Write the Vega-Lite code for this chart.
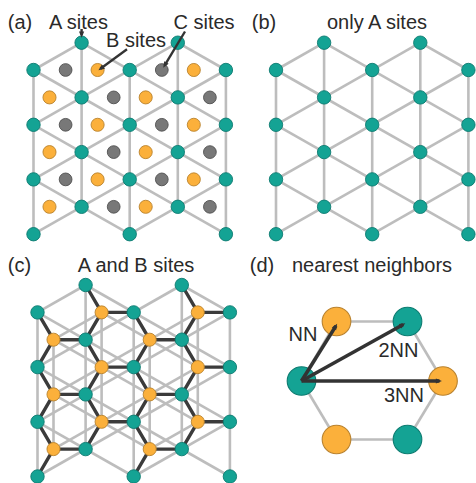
{
  "$schema": "https://vega.github.io/schema/vega-lite/v6.json",
  "width": 476,
  "height": 483,
  "padding": 0,
  "autosize": "none",
  "background": "white",
  "config": {"view": {"stroke": null}},
  "datasets": {
    "light": [
      {"x": 33.5, "y": 70.0, "x2": 33.5, "y2": 234.2},
      {"x": 81.6, "y": 42.7, "x2": 81.6, "y2": 206.8},
      {"x": 129.7, "y": 70.0, "x2": 129.7, "y2": 234.2},
      {"x": 177.8, "y": 42.7, "x2": 177.8, "y2": 206.8},
      {"x": 225.9, "y": 70.0, "x2": 225.9, "y2": 234.2},
      {"x": 33.5, "y": 70.0, "x2": 81.6, "y2": 42.7},
      {"x": 33.5, "y": 124.8, "x2": 177.8, "y2": 42.7},
      {"x": 33.5, "y": 179.4, "x2": 225.9, "y2": 70.0},
      {"x": 33.5, "y": 234.2, "x2": 225.9, "y2": 124.8},
      {"x": 129.7, "y": 234.2, "x2": 225.9, "y2": 179.4},
      {"x": 177.8, "y": 42.7, "x2": 225.9, "y2": 70.0},
      {"x": 81.6, "y": 42.7, "x2": 225.9, "y2": 124.8},
      {"x": 33.5, "y": 70.0, "x2": 225.9, "y2": 179.4},
      {"x": 33.5, "y": 124.8, "x2": 225.9, "y2": 234.2},
      {"x": 33.5, "y": 179.4, "x2": 129.7, "y2": 234.2},

      {"x": 276.0, "y": 70.0, "x2": 276.0, "y2": 234.2},
      {"x": 324.1, "y": 42.7, "x2": 324.1, "y2": 206.8},
      {"x": 372.2, "y": 70.0, "x2": 372.2, "y2": 234.2},
      {"x": 420.3, "y": 42.7, "x2": 420.3, "y2": 206.8},
      {"x": 468.4, "y": 70.0, "x2": 468.4, "y2": 234.2},
      {"x": 276.0, "y": 70.0, "x2": 324.1, "y2": 42.7},
      {"x": 276.0, "y": 124.8, "x2": 420.3, "y2": 42.7},
      {"x": 276.0, "y": 179.4, "x2": 468.4, "y2": 70.0},
      {"x": 276.0, "y": 234.2, "x2": 468.4, "y2": 124.8},
      {"x": 372.2, "y": 234.2, "x2": 468.4, "y2": 179.4},
      {"x": 420.3, "y": 42.7, "x2": 468.4, "y2": 70.0},
      {"x": 324.1, "y": 42.7, "x2": 468.4, "y2": 124.8},
      {"x": 276.0, "y": 70.0, "x2": 468.4, "y2": 179.4},
      {"x": 276.0, "y": 124.8, "x2": 468.4, "y2": 234.2},
      {"x": 276.0, "y": 179.4, "x2": 372.2, "y2": 234.2},

      {"x": 37.5, "y": 312.4, "x2": 37.5, "y2": 476.5},
      {"x": 85.6, "y": 285.0, "x2": 85.6, "y2": 449.1},
      {"x": 133.7, "y": 312.4, "x2": 133.7, "y2": 476.5},
      {"x": 181.8, "y": 285.0, "x2": 181.8, "y2": 449.1},
      {"x": 229.9, "y": 312.4, "x2": 229.9, "y2": 476.5},
      {"x": 37.5, "y": 312.4, "x2": 85.6, "y2": 285.0},
      {"x": 37.5, "y": 367.1, "x2": 181.8, "y2": 285.0},
      {"x": 37.5, "y": 421.8, "x2": 229.9, "y2": 312.4},
      {"x": 37.5, "y": 476.5, "x2": 229.9, "y2": 367.1},
      {"x": 133.7, "y": 476.5, "x2": 229.9, "y2": 421.8},
      {"x": 181.8, "y": 285.0, "x2": 229.9, "y2": 312.4},
      {"x": 85.6, "y": 285.0, "x2": 229.9, "y2": 367.1},
      {"x": 37.5, "y": 312.4, "x2": 229.9, "y2": 421.8},
      {"x": 37.5, "y": 367.1, "x2": 229.9, "y2": 476.5},
      {"x": 37.5, "y": 421.8, "x2": 133.7, "y2": 476.5},

      {"x": 53.5, "y": 339.7, "x2": 53.5, "y2": 449.1},
      {"x": 101.6, "y": 312.4, "x2": 101.6, "y2": 421.8},
      {"x": 149.7, "y": 339.7, "x2": 149.7, "y2": 449.1},
      {"x": 197.8, "y": 312.4, "x2": 197.8, "y2": 421.8},
      {"x": 53.5, "y": 339.7, "x2": 101.6, "y2": 312.4},
      {"x": 53.5, "y": 394.4, "x2": 197.8, "y2": 312.4},
      {"x": 53.5, "y": 449.1, "x2": 197.8, "y2": 367.1},
      {"x": 149.7, "y": 449.1, "x2": 197.8, "y2": 421.8},
      {"x": 101.6, "y": 312.4, "x2": 197.8, "y2": 367.1},
      {"x": 53.5, "y": 339.7, "x2": 197.8, "y2": 421.8},
      {"x": 53.5, "y": 394.4, "x2": 149.7, "y2": 449.1},

      {"x": 336.5, "y": 321.5, "x2": 407.5, "y2": 321.5},
      {"x": 407.5, "y": 321.5, "x2": 443.0, "y2": 381.0},
      {"x": 443.0, "y": 381.0, "x2": 407.5, "y2": 439.5},
      {"x": 407.5, "y": 439.5, "x2": 336.5, "y2": 439.5},
      {"x": 336.5, "y": 439.5, "x2": 301.5, "y2": 381.0},
      {"x": 301.5, "y": 381.0, "x2": 336.5, "y2": 321.5}
    ],
    "dark": [
      {"x": 53.5, "y": 339.7, "x2": 37.5, "y2": 312.4},
      {"x": 53.5, "y": 339.7, "x2": 37.5, "y2": 367.1},
      {"x": 53.5, "y": 339.7, "x2": 85.6, "y2": 339.7},
      {"x": 53.5, "y": 394.4, "x2": 37.5, "y2": 367.1},
      {"x": 53.5, "y": 394.4, "x2": 37.5, "y2": 421.8},
      {"x": 53.5, "y": 394.4, "x2": 85.6, "y2": 394.4},
      {"x": 53.5, "y": 449.1, "x2": 37.5, "y2": 421.8},
      {"x": 53.5, "y": 449.1, "x2": 37.5, "y2": 476.5},
      {"x": 53.5, "y": 449.1, "x2": 85.6, "y2": 449.1},
      {"x": 101.6, "y": 312.4, "x2": 85.6, "y2": 285.0},
      {"x": 101.6, "y": 312.4, "x2": 85.6, "y2": 339.7},
      {"x": 101.6, "y": 312.4, "x2": 133.7, "y2": 312.4},
      {"x": 101.6, "y": 367.1, "x2": 85.6, "y2": 339.7},
      {"x": 101.6, "y": 367.1, "x2": 85.6, "y2": 394.4},
      {"x": 101.6, "y": 367.1, "x2": 133.7, "y2": 367.1},
      {"x": 101.6, "y": 421.8, "x2": 85.6, "y2": 394.4},
      {"x": 101.6, "y": 421.8, "x2": 85.6, "y2": 449.1},
      {"x": 101.6, "y": 421.8, "x2": 133.7, "y2": 421.8},
      {"x": 149.7, "y": 339.7, "x2": 133.7, "y2": 312.4},
      {"x": 149.7, "y": 339.7, "x2": 133.7, "y2": 367.1},
      {"x": 149.7, "y": 339.7, "x2": 181.8, "y2": 339.7},
      {"x": 149.7, "y": 394.4, "x2": 133.7, "y2": 367.1},
      {"x": 149.7, "y": 394.4, "x2": 133.7, "y2": 421.8},
      {"x": 149.7, "y": 394.4, "x2": 181.8, "y2": 394.4},
      {"x": 149.7, "y": 449.1, "x2": 133.7, "y2": 421.8},
      {"x": 149.7, "y": 449.1, "x2": 133.7, "y2": 476.5},
      {"x": 149.7, "y": 449.1, "x2": 181.8, "y2": 449.1},
      {"x": 197.8, "y": 312.4, "x2": 181.8, "y2": 285.0},
      {"x": 197.8, "y": 312.4, "x2": 181.8, "y2": 339.7},
      {"x": 197.8, "y": 312.4, "x2": 229.9, "y2": 312.4},
      {"x": 197.8, "y": 367.1, "x2": 181.8, "y2": 339.7},
      {"x": 197.8, "y": 367.1, "x2": 181.8, "y2": 394.4},
      {"x": 197.8, "y": 367.1, "x2": 229.9, "y2": 367.1},
      {"x": 197.8, "y": 421.8, "x2": 181.8, "y2": 394.4},
      {"x": 197.8, "y": 421.8, "x2": 181.8, "y2": 449.1},
      {"x": 197.8, "y": 421.8, "x2": 229.9, "y2": 421.8}
    ],
    "sites": [
      {"panel": "a", "type": "A", "x": 33.5, "y": 70.0},
      {"panel": "a", "type": "A", "x": 33.5, "y": 124.8},
      {"panel": "a", "type": "A", "x": 33.5, "y": 179.4},
      {"panel": "a", "type": "A", "x": 33.5, "y": 234.2},
      {"panel": "a", "type": "A", "x": 81.6, "y": 42.7},
      {"panel": "a", "type": "A", "x": 81.6, "y": 97.4},
      {"panel": "a", "type": "A", "x": 81.6, "y": 152.1},
      {"panel": "a", "type": "A", "x": 81.6, "y": 206.8},
      {"panel": "a", "type": "A", "x": 129.7, "y": 70.0},
      {"panel": "a", "type": "A", "x": 129.7, "y": 124.8},
      {"panel": "a", "type": "A", "x": 129.7, "y": 179.4},
      {"panel": "a", "type": "A", "x": 129.7, "y": 234.2},
      {"panel": "a", "type": "A", "x": 177.8, "y": 42.7},
      {"panel": "a", "type": "A", "x": 177.8, "y": 97.4},
      {"panel": "a", "type": "A", "x": 177.8, "y": 152.1},
      {"panel": "a", "type": "A", "x": 177.8, "y": 206.8},
      {"panel": "a", "type": "A", "x": 225.9, "y": 70.0},
      {"panel": "a", "type": "A", "x": 225.9, "y": 124.8},
      {"panel": "a", "type": "A", "x": 225.9, "y": 179.4},
      {"panel": "a", "type": "A", "x": 225.9, "y": 234.2},
      {"panel": "a", "type": "B", "x": 49.5, "y": 97.4},
      {"panel": "a", "type": "B", "x": 49.5, "y": 152.1},
      {"panel": "a", "type": "B", "x": 49.5, "y": 206.8},
      {"panel": "a", "type": "B", "x": 97.6, "y": 70.0},
      {"panel": "a", "type": "B", "x": 97.6, "y": 124.8},
      {"panel": "a", "type": "B", "x": 97.6, "y": 179.4},
      {"panel": "a", "type": "B", "x": 145.7, "y": 97.4},
      {"panel": "a", "type": "B", "x": 145.7, "y": 152.1},
      {"panel": "a", "type": "B", "x": 145.7, "y": 206.8},
      {"panel": "a", "type": "B", "x": 193.8, "y": 70.0},
      {"panel": "a", "type": "B", "x": 193.8, "y": 124.8},
      {"panel": "a", "type": "B", "x": 193.8, "y": 179.4},
      {"panel": "a", "type": "C", "x": 65.6, "y": 70.0},
      {"panel": "a", "type": "C", "x": 65.6, "y": 124.8},
      {"panel": "a", "type": "C", "x": 65.6, "y": 179.4},
      {"panel": "a", "type": "C", "x": 113.7, "y": 97.4},
      {"panel": "a", "type": "C", "x": 113.7, "y": 152.1},
      {"panel": "a", "type": "C", "x": 113.7, "y": 206.8},
      {"panel": "a", "type": "C", "x": 161.8, "y": 70.0},
      {"panel": "a", "type": "C", "x": 161.8, "y": 124.8},
      {"panel": "a", "type": "C", "x": 161.8, "y": 179.4},
      {"panel": "a", "type": "C", "x": 209.9, "y": 97.4},
      {"panel": "a", "type": "C", "x": 209.9, "y": 152.1},
      {"panel": "a", "type": "C", "x": 209.9, "y": 206.8},

      {"panel": "b", "type": "A", "x": 276.0, "y": 70.0},
      {"panel": "b", "type": "A", "x": 276.0, "y": 124.8},
      {"panel": "b", "type": "A", "x": 276.0, "y": 179.4},
      {"panel": "b", "type": "A", "x": 276.0, "y": 234.2},
      {"panel": "b", "type": "A", "x": 324.1, "y": 42.7},
      {"panel": "b", "type": "A", "x": 324.1, "y": 97.4},
      {"panel": "b", "type": "A", "x": 324.1, "y": 152.1},
      {"panel": "b", "type": "A", "x": 324.1, "y": 206.8},
      {"panel": "b", "type": "A", "x": 372.2, "y": 70.0},
      {"panel": "b", "type": "A", "x": 372.2, "y": 124.8},
      {"panel": "b", "type": "A", "x": 372.2, "y": 179.4},
      {"panel": "b", "type": "A", "x": 372.2, "y": 234.2},
      {"panel": "b", "type": "A", "x": 420.3, "y": 42.7},
      {"panel": "b", "type": "A", "x": 420.3, "y": 97.4},
      {"panel": "b", "type": "A", "x": 420.3, "y": 152.1},
      {"panel": "b", "type": "A", "x": 420.3, "y": 206.8},
      {"panel": "b", "type": "A", "x": 468.4, "y": 70.0},
      {"panel": "b", "type": "A", "x": 468.4, "y": 124.8},
      {"panel": "b", "type": "A", "x": 468.4, "y": 179.4},
      {"panel": "b", "type": "A", "x": 468.4, "y": 234.2},

      {"panel": "c", "type": "A", "x": 37.5, "y": 312.4},
      {"panel": "c", "type": "A", "x": 37.5, "y": 367.1},
      {"panel": "c", "type": "A", "x": 37.5, "y": 421.8},
      {"panel": "c", "type": "A", "x": 37.5, "y": 476.5},
      {"panel": "c", "type": "A", "x": 85.6, "y": 285.0},
      {"panel": "c", "type": "A", "x": 85.6, "y": 339.7},
      {"panel": "c", "type": "A", "x": 85.6, "y": 394.4},
      {"panel": "c", "type": "A", "x": 85.6, "y": 449.1},
      {"panel": "c", "type": "A", "x": 133.7, "y": 312.4},
      {"panel": "c", "type": "A", "x": 133.7, "y": 367.1},
      {"panel": "c", "type": "A", "x": 133.7, "y": 421.8},
      {"panel": "c", "type": "A", "x": 133.7, "y": 476.5},
      {"panel": "c", "type": "A", "x": 181.8, "y": 285.0},
      {"panel": "c", "type": "A", "x": 181.8, "y": 339.7},
      {"panel": "c", "type": "A", "x": 181.8, "y": 394.4},
      {"panel": "c", "type": "A", "x": 181.8, "y": 449.1},
      {"panel": "c", "type": "A", "x": 229.9, "y": 312.4},
      {"panel": "c", "type": "A", "x": 229.9, "y": 367.1},
      {"panel": "c", "type": "A", "x": 229.9, "y": 421.8},
      {"panel": "c", "type": "A", "x": 229.9, "y": 476.5},
      {"panel": "c", "type": "B", "x": 53.5, "y": 339.7},
      {"panel": "c", "type": "B", "x": 53.5, "y": 394.4},
      {"panel": "c", "type": "B", "x": 53.5, "y": 449.1},
      {"panel": "c", "type": "B", "x": 101.6, "y": 312.4},
      {"panel": "c", "type": "B", "x": 101.6, "y": 367.1},
      {"panel": "c", "type": "B", "x": 101.6, "y": 421.8},
      {"panel": "c", "type": "B", "x": 149.7, "y": 339.7},
      {"panel": "c", "type": "B", "x": 149.7, "y": 394.4},
      {"panel": "c", "type": "B", "x": 149.7, "y": 449.1},
      {"panel": "c", "type": "B", "x": 197.8, "y": 312.4},
      {"panel": "c", "type": "B", "x": 197.8, "y": 367.1},
      {"panel": "c", "type": "B", "x": 197.8, "y": 421.8},

      {"panel": "d", "type": "A", "x": 301.5, "y": 381.0},
      {"panel": "d", "type": "B", "x": 336.5, "y": 321.5},
      {"panel": "d", "type": "A", "x": 407.5, "y": 321.5},
      {"panel": "d", "type": "B", "x": 443.0, "y": 381.0},
      {"panel": "d", "type": "A", "x": 407.5, "y": 439.5},
      {"panel": "d", "type": "B", "x": 336.5, "y": 439.5}
    ],
    "arrows": [
      {"panel": "a", "label": "A sites", "x": 81.6, "y": 29.0, "x2": 81.6, "y2": 35.2},
      {"panel": "a", "label": "B sites", "x": 127.0, "y": 49.3, "x2": 100.4, "y2": 68.8},
      {"panel": "a", "label": "C sites", "x": 185.0, "y": 31.5, "x2": 164.5, "y2": 65.7},
      {"panel": "d", "label": "NN", "x": 301.5, "y": 381.0, "x2": 335.9, "y2": 325.9},
      {"panel": "d", "label": "2NN", "x": 301.5, "y": 381.0, "x2": 403.2, "y2": 324.5},
      {"panel": "d", "label": "3NN", "x": 301.5, "y": 381.0, "x2": 439.5, "y2": 381.0}
    ],
    "texts": [
      {"text": "(a)", "x": 20.0, "y": 28.5},
      {"text": "A sites", "x": 78.5, "y": 28.5},
      {"text": "B sites", "x": 136.0, "y": 47.0},
      {"text": "C sites", "x": 204.0, "y": 28.5},
      {"text": "(b)", "x": 264.0, "y": 28.5},
      {"text": "only A sites", "x": 377.0, "y": 28.5},
      {"text": "(c)", "x": 19.5, "y": 271.5},
      {"text": "A and B sites", "x": 136.0, "y": 271.5},
      {"text": "(d)", "x": 262.0, "y": 271.5},
      {"text": "nearest neighbors", "x": 372.0, "y": 271.5},
      {"text": "NN", "x": 303.0, "y": 340.5},
      {"text": "2NN", "x": 398.5, "y": 356.5},
      {"text": "3NN", "x": 404.0, "y": 402.0}
    ]
  },
  "encoding": {
    "x": {"field": "x", "type": "quantitative", "scale": {"domain": [0, 476], "nice": false, "zero": false}, "axis": null},
    "y": {"field": "y", "type": "quantitative", "scale": {"domain": [0, 483], "nice": false, "zero": false, "reverse": true}, "axis": null}
  },
  "layer": [
    {
      "data": {"name": "light"},
      "mark": {"type": "rule", "color": "#bdbdbd", "strokeWidth": 2.6},
      "encoding": {"x2": {"field": "x2"}, "y2": {"field": "y2"}}
    },
    {
      "data": {"name": "dark"},
      "mark": {"type": "rule", "color": "#3b3b3b", "strokeWidth": 3.4, "strokeCap": "round"},
      "encoding": {"x2": {"field": "x2"}, "y2": {"field": "y2"}}
    },
    {
      "data": {"name": "sites"},
      "transform": [{"filter": "datum.panel != 'd'"}],
      "mark": {"type": "point", "shape": "circle", "filled": true, "opacity": 1, "strokeWidth": 0.9},
      "encoding": {
        "color": {"field": "type", "type": "nominal", "scale": {"domain": ["A", "B", "C"], "range": ["#14a394", "#fbb03b", "#787878"]}, "legend": null},
        "stroke": {"field": "type", "type": "nominal", "scale": {"domain": ["A", "B", "C"], "range": ["#0c7b70", "#b9822e", "#505050"]}, "legend": null},
        "size": {"field": "type", "type": "nominal", "scale": {"domain": ["A", "B", "C"], "range": [180, 145, 145]}, "legend": null}
      }
    },
    {
      "data": {"name": "sites"},
      "transform": [{"filter": "datum.panel == 'd'"}],
      "mark": {"type": "point", "shape": "circle", "filled": true, "opacity": 1, "strokeWidth": 1.1, "size": 820},
      "encoding": {
        "color": {"field": "type", "type": "nominal", "scale": {"domain": ["A", "B", "C"], "range": ["#14a394", "#fbb03b", "#787878"]}, "legend": null},
        "stroke": {"field": "type", "type": "nominal", "scale": {"domain": ["A", "B", "C"], "range": ["#0c7b70", "#b9822e", "#505050"]}, "legend": null}
      }
    },
    {
      "data": {"name": "arrows"},
      "mark": {"type": "rule", "color": "#333333", "strokeCap": "butt"},
      "encoding": {
        "x2": {"field": "x2"},
        "y2": {"field": "y2"},
        "strokeWidth": {"field": "panel", "type": "nominal", "scale": {"domain": ["a", "d"], "range": [2.4, 3.6]}, "legend": null}
      }
    },
    {
      "data": {"name": "arrows"},
      "transform": [{"calculate": "atan2(datum.x2 - datum.x, datum.y - datum.y2) * 180 / PI", "as": "heading"}],
      "mark": {"type": "point", "shape": "M0,-0.4 L0.42,0.6 L-0.42,0.6 Z", "filled": true, "opacity": 1, "color": "#333333", "strokeWidth": 0},
      "encoding": {
        "x": {"field": "x2", "type": "quantitative"},
        "y": {"field": "y2", "type": "quantitative"},
        "angle": {"field": "heading", "type": "quantitative", "scale": null},
        "size": {"field": "panel", "type": "nominal", "scale": {"domain": ["a", "d"], "range": [300, 580]}, "legend": null}
      }
    },
    {
      "data": {"name": "texts"},
      "mark": {"type": "text", "font": "Liberation Sans", "fontSize": 20, "color": "#2a2a2a", "align": "center", "baseline": "alphabetic"},
      "encoding": {"text": {"field": "text"}}
    }
  ]
}
